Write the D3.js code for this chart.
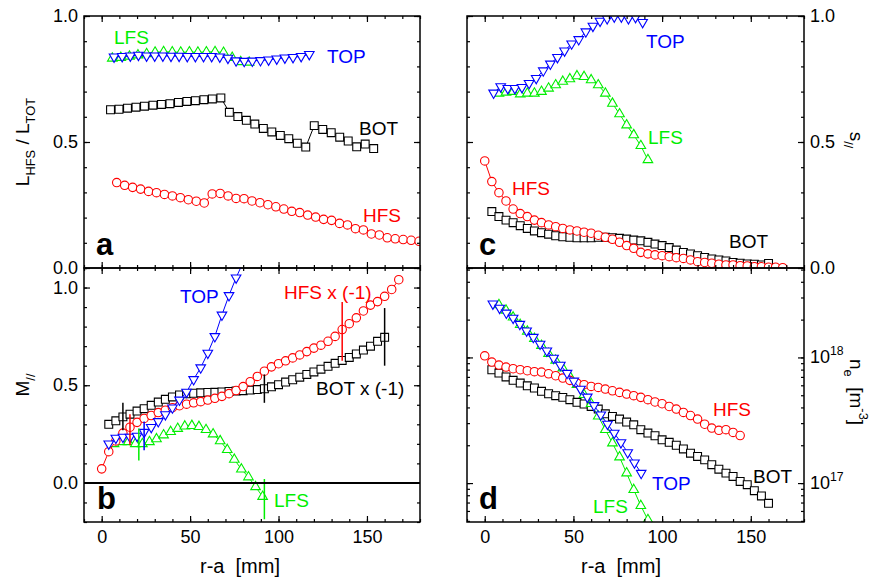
<!DOCTYPE html>
<html>
<head>
<meta charset="utf-8">
<script src="https://cdn.jsdelivr.net/npm/d3@7"></script>
<style>
  body { margin: 0; background: #fff; }
  svg { display: block; font-family: "Liberation Sans", Arial, sans-serif; }
</style>
</head>
<body>
<script>
// ---- panel a : L_HFS / L_TOT ----
const aBotX = [5, 9.8, 14.6, 19.4, 24.2, 29, 33.8, 38.6, 43.4, 48.2, 53, 57.8, 62.6, 67.4, 72.2, 77, 81.8, 86.6, 91.4, 96.2, 101, 105.8, 110.6, 115.4, 120.2, 125, 129.8, 134.6, 139.4, 144.2, 149, 153.8];
const aBot = [0.628, 0.630, 0.634, 0.638, 0.642, 0.646, 0.649, 0.652, 0.657, 0.661, 0.664, 0.668, 0.671, 0.675, 0.618, 0.601, 0.586, 0.571, 0.554, 0.540, 0.526, 0.513, 0.495, 0.480, 0.565, 0.550, 0.537, 0.519, 0.504, 0.481, 0.492, 0.474];
const aHfsX = [8.5, 13, 17.5, 22, 26.5, 31, 35.5, 40, 44.5, 49, 53.5, 58, 62.5, 67, 71.5, 76, 80.5, 85, 89.5, 94, 98.5, 103, 107.5, 112, 116.5, 121, 125.5, 130, 134.5, 139, 143.5, 148, 152.5, 157, 161.5, 166, 170.5, 175, 179.5];
const aHfs = [0.339, 0.328, 0.320, 0.313, 0.304, 0.299, 0.292, 0.286, 0.279, 0.271, 0.265, 0.258, 0.294, 0.296, 0.286, 0.276, 0.275, 0.266, 0.259, 0.251, 0.243, 0.234, 0.225, 0.220, 0.210, 0.202, 0.193, 0.189, 0.177, 0.171, 0.156, 0.151, 0.135, 0.131, 0.120, 0.116, 0.113, 0.110, 0.106];
const aLfsX = [6, 10.8, 15.7, 20.5, 25.4, 30.2, 35, 39.9, 44.7, 49.6, 54.4, 59.2, 64.1, 68.9, 73.8, 78.6, 83.4];
const aLfs = [0.832, 0.835, 0.840, 0.845, 0.850, 0.856, 0.858, 0.857, 0.856, 0.857, 0.856, 0.857, 0.858, 0.855, 0.835, 0.818, 0.816];
const aTopX = [7, 11.6, 16.2, 20.8, 25.4, 30, 34.6, 39.2, 43.8, 48.4, 53, 57.6, 62.2, 66.8, 71.4, 76, 80.6, 85.2, 89.8, 94.4, 99, 103.6, 108.2, 112.8, 117.4];
const aTop = [0.838, 0.840, 0.842, 0.845, 0.842, 0.842, 0.842, 0.841, 0.841, 0.840, 0.840, 0.840, 0.840, 0.838, 0.833, 0.823, 0.821, 0.822, 0.824, 0.826, 0.830, 0.834, 0.836, 0.840, 0.848];

// ---- panel b : M_// ----
const bHfsX = [0, 4, 8, 12, 16, 20, 24, 28, 32, 36, 40, 44, 48, 52, 56, 60, 64, 68, 72, 76, 80, 84, 88, 92, 96, 100, 104, 108, 112, 116, 120, 124, 128, 132, 136, 140, 144, 148, 152, 156, 160, 164, 168];
const bHfs = [0.072, 0.16, 0.215, 0.255, 0.285, 0.31, 0.33, 0.345, 0.36, 0.372, 0.385, 0.395, 0.403, 0.41, 0.416, 0.424, 0.433, 0.443, 0.457, 0.473, 0.493, 0.518, 0.545, 0.572, 0.594, 0.61, 0.625, 0.64, 0.655, 0.672, 0.69, 0.705, 0.725, 0.75, 0.785, 0.815, 0.845, 0.88, 0.91, 0.928, 0.955, 0.99, 1.04];
const bBotX = [4, 8, 12, 16, 20, 24, 28, 32, 36, 40, 44, 48, 52, 56, 60, 64, 68, 72, 76, 80, 84, 88, 92, 96, 100, 104, 108, 112, 116, 120, 124, 128, 132, 136, 140, 144, 148, 152, 156, 160];
const bBot = [0.30, 0.318, 0.338, 0.352, 0.368, 0.38, 0.397, 0.414, 0.428, 0.44, 0.45, 0.456, 0.459, 0.461, 0.463, 0.464, 0.466, 0.468, 0.47, 0.472, 0.475, 0.478, 0.482, 0.492, 0.503, 0.516, 0.528, 0.541, 0.555, 0.568, 0.582, 0.597, 0.612, 0.627, 0.642, 0.66, 0.68, 0.70, 0.725, 0.745];
const bTopX = [4, 8, 12, 16, 20, 24, 28, 32, 36, 40, 44, 48, 52, 56, 60, 64, 68, 72, 76, 80];
const bTop = [0.20, 0.23, 0.235, 0.235, 0.24, 0.26, 0.285, 0.315, 0.35, 0.385, 0.425, 0.465, 0.53, 0.59, 0.665, 0.75, 0.86, 0.96, 1.05, 1.13];
const bLfsX = [7, 11, 15, 19, 23, 27, 31, 35, 39, 43, 47, 51, 55, 59, 63, 67, 71, 75, 79, 83, 87, 91];
const bLfs = [0.20, 0.21, 0.21, 0.20, 0.20, 0.21, 0.225, 0.245, 0.262, 0.278, 0.29, 0.293, 0.288, 0.272, 0.25, 0.215, 0.17, 0.12, 0.07, 0.03, -0.02, -0.07];
// error bars in panel b
const bBotErrX = [12, 92, 160], bBotErrLo = [0.27, 0.41, 0.60], bBotErrHi = [0.41, 0.555, 0.895];
const bHfsErrX = [16, 136], bHfsErrLo = [0.193, 0.625], bHfsErrHi = [0.352, 0.926];
const bLfsErrX = [21, 92], bLfsErrLo = [0.115, -0.186], bLfsErrHi = [0.279, 0.02];
const bTopErrX = [24], bTopErrLo = [0.167], bTopErrHi = [0.314];

// ---- panel c : s_// ----
const cTopX = [5, 9, 13, 17, 21, 25, 29, 33, 37, 41, 45, 49, 53, 57, 61, 65, 69, 73, 77, 81, 85, 89];
const cTop = [0.695, 0.72, 0.713, 0.713, 0.717, 0.733, 0.753, 0.783, 0.81, 0.836, 0.862, 0.89, 0.907, 0.938, 0.96, 0.98, 0.99, 0.997, 0.997, 0.99, 0.995, 0.975];
const cLfsX = [8, 12, 16, 20, 24, 28, 32, 36, 40, 44, 48, 52, 56, 60, 64, 68, 72, 76, 80, 84, 88, 92];
const cLfs = [0.693, 0.697, 0.700, 0.690, 0.693, 0.693, 0.700, 0.713, 0.726, 0.74, 0.75, 0.762, 0.759, 0.746, 0.726, 0.693, 0.653, 0.611, 0.567, 0.528, 0.485, 0.429];
const cHfsX = bHfsX;
const cHfs = [0.425, 0.343, 0.299, 0.266, 0.234, 0.216, 0.204, 0.19, 0.18, 0.171, 0.164, 0.157, 0.151, 0.147, 0.142, 0.138, 0.13, 0.122, 0.114, 0.102, 0.089, 0.078, 0.062, 0.056, 0.052, 0.049, 0.045, 0.041, 0.038, 0.032, 0.025, 0.022, 0.019, 0.015, 0.012, 0.012, 0.009, 0.008, 0.005, 0.005, 0.003, 0.003, 0.001];
const cBotX = bBotX;
const cBot = [0.224, 0.204, 0.19, 0.18, 0.168, 0.157, 0.147, 0.14, 0.134, 0.128, 0.124, 0.122, 0.12, 0.12, 0.12, 0.122, 0.122, 0.12, 0.118, 0.115, 0.111, 0.108, 0.102, 0.095, 0.089, 0.081, 0.071, 0.062, 0.056, 0.049, 0.042, 0.036, 0.032, 0.028, 0.022, 0.019, 0.016, 0.015, 0.012, 0.018];

// ---- panel d : n_e ----
const dHfsX = [0, 4, 8, 12, 16, 20, 24, 28, 32, 36, 40, 44, 48, 52, 56, 60, 64, 68, 72, 76, 80, 84, 88, 92, 96, 100, 104, 108, 112, 116, 120, 124, 128, 132, 136, 140, 144];
const dHfs = [10.3e17, 9.18e17, 8.69e17, 8.38e17, 8.13e17, 7.98e17, 7.84e17, 7.7e17, 7.65e17, 7.41e17, 7.15e17, 6.85e17, 6.57e17, 6.25e17, 6.07e17, 5.88e17, 5.77e17, 5.6e17, 5.43e17, 5.27e17, 5.11e17, 4.96e17, 4.81e17, 4.61e17, 4.42e17, 4.28e17, 4.07e17, 3.88e17, 3.65e17, 3.45e17, 3.23e17, 2.94e17, 2.74e17, 2.63e17, 2.66e17, 2.53e17, 2.39e17];
const dBotX = bBotX;
const dBot = [7.98e17, 7.51e17, 6.99e17, 6.57e17, 6.25e17, 5.95e17, 5.71e17, 5.37e17, 5.14e17, 4.96e17, 4.81e17, 4.61e17, 4.39e17, 4.26e17, 4.07e17, 3.88e17, 3.56e17, 3.39e17, 3.23e17, 3.06e17, 2.91e17, 2.66e17, 2.5e17, 2.38e17, 2.21e17, 2.11e17, 2.0e17, 1.87e17, 1.73e17, 1.63e17, 1.53e17, 1.4e17, 1.29e17, 1.2e17, 1.13e17, 1.03e17, 0.97e17, 0.87e17, 0.79e17, 0.69e17];
const dTopX = [4.6, 8.4, 12.2, 16, 19.8, 23.6, 27.4, 31.2, 35, 38.8, 42.6, 46.4, 50.2, 54, 57.8, 61.6, 65.4, 69.2, 73, 76.8, 80.6, 84.4, 88.2];
const dTop = [2.67e18, 2.47e18, 2.26e18, 2.06e18, 1.84e18, 1.63e18, 1.45e18, 1.28e18, 1.13e18, 9.9e17, 8.7e17, 7.5e17, 6.5e17, 5.6e17, 4.85e17, 4.15e17, 3.5e17, 2.95e17, 2.5e17, 2.1e17, 1.75e17, 1.45e17, 1.2e17];
const dLfsX = [8, 12, 16, 20, 24, 28, 32, 36, 40, 44, 48, 52, 56, 60, 64, 68, 72, 76, 80, 84, 88, 92];
const dLfs = [2.62e18, 2.37e18, 2.09e18, 1.82e18, 1.61e18, 1.41e18, 1.24e18, 1.07e18, 9.46e17, 8.22e17, 7.06e17, 6.07e17, 5.05e17, 4.28e17, 3.4e17, 2.66e17, 2.08e17, 1.61e17, 1.2e17, 8.85e16, 6.6e16, 5.1e16];

const xMajor = [0, 50, 100, 150];
const xMinor = d3.range(-10, 181, 10);
const linMajor = [0, 0.5, 1];
const logMajor = [1e17, 1e18];

const width = 889;
const height = 582;
const colors = { BOT: '#000000', HFS: '#ff0000', LFS: '#00ee00', TOP: '#0000ff' };

const svg = d3.select('body')
    .append('svg')
    .attr('width', width)
    .attr('height', height);

const xLeft = d3.scaleLinear().domain([-10, 180]).range([84, 420]);
const xRight = d3.scaleLinear().domain([-10, 180]).range([467, 804]);
const yA = d3.scaleLinear().domain([0, 1]).range([268, 16]);
const yB = d3.scaleLinear().domain([-0.2, 1.1]).range([522, 268]);
const yC = d3.scaleLinear().domain([0, 1]).range([268, 16]);
const yD = d3.scaleLog().domain([4.9e16, 5.15e18]).range([522, 268]);

function makePanel(id, x, y) {
    const g = svg.append('g');
    const [x0, x1] = x.range();
    const [y1, y0] = y.range();
    svg.append('clipPath').attr('id', id).append('rect')
        .attr('x', x0).attr('y', y0).attr('width', x1 - x0).attr('height', y1 - y0);
    const plot = g.append('g').attr('clip-path', `url(#${id})`);
    return { g, plot, x, y };
}

function tidy(sel) {
    sel.select('.domain').remove();
    sel.attr('font-family', null).attr('font-size', 18);
    sel.selectAll('line').attr('stroke', '#000').attr('stroke-width', 1.2);
    sel.selectAll('text').attr('fill', '#000');
}

// ticks on all four sides, pointing inwards
function drawAxes(p, opts) {
    const { g, x, y } = p;
    const [x0, x1] = x.range();
    const [y1, y0] = y.range();
    const noLab = () => '';

    [['bottom', y1], ['top', y0]].forEach(([side, pos]) => {
        const mk = side === 'bottom' ? d3.axisBottom : d3.axisTop;
        g.append('g').attr('transform', `translate(0,${pos})`)
            .call(mk(x).tickValues(xMinor).tickSizeInner(-3).tickSizeOuter(0).tickFormat(noLab)).call(tidy);
        const lab = side === 'bottom' && opts.xLabels ? d3.format('d') : noLab;
        g.append('g').attr('transform', `translate(0,${pos})`)
            .call(mk(x).tickValues(xMajor).tickSizeInner(-6).tickSizeOuter(0).tickPadding(8).tickFormat(lab)).call(tidy);
    });

    [['left', x0], ['right', x1]].forEach(([side, pos]) => {
        const mk = side === 'left' ? d3.axisLeft : d3.axisRight;
        g.append('g').attr('transform', `translate(${pos},0)`)
            .call(mk(y).tickValues(opts.yMinor).tickSizeInner(-3).tickSizeOuter(0).tickFormat(noLab)).call(tidy);
        const lab = side === opts.ySide && !opts.log ? d3.format('.1f') : noLab;
        g.append('g').attr('transform', `translate(${pos},0)`)
            .call(mk(y).tickValues(opts.yMajor).tickSizeInner(-6).tickSizeOuter(0).tickPadding(6).tickFormat(lab)).call(tidy);
    });

    g.append('rect')
        .attr('x', x0).attr('y', y0).attr('width', x1 - x0).attr('height', y1 - y0)
        .attr('fill', 'none').attr('stroke', '#000').attr('stroke-width', 1.5);
}

const shapes = {
    BOT: { type: d3.symbolSquare, size: 62, rot: 0 },
    HFS: { type: d3.symbolCircle, size: 56, rot: 0 },
    LFS: { type: d3.symbolTriangle, size: 40, rot: 0 },
    TOP: { type: d3.symbolTriangle, size: 40, rot: 180 }
};

function drawSeries(p, name, xs, ys) {
    const pts = xs.map((d, i) => [d, ys[i]]);
    const c = colors[name];
    const s = shapes[name];
    p.plot.append('path').datum(pts)
        .attr('d', d3.line().x(d => p.x(d[0])).y(d => p.y(d[1])))
        .attr('fill', 'none').attr('stroke', c).attr('stroke-width', 1);
    p.plot.selectAll(null).data(pts).enter().append('path')
        .attr('d', d3.symbol().type(s.type).size(s.size))
        .attr('transform', d => `translate(${p.x(d[0])},${p.y(d[1])}) rotate(${s.rot})`)
        .attr('fill', '#fff').attr('stroke', c).attr('stroke-width', 1.1);
}

function drawErrors(p, name, xs, lo, hi) {
    p.plot.selectAll(null).data(xs).enter().append('line')
        .attr('x1', d => p.x(d)).attr('x2', d => p.x(d))
        .attr('y1', (d, i) => p.y(lo[i])).attr('y2', (d, i) => p.y(hi[i]))
        .attr('stroke', colors[name]).attr('stroke-width', 1.5);
}

function label(txt, px, py, color, size, bold) {
    svg.append('text').attr('x', px).attr('y', py)
        .attr('fill', color).attr('font-size', size || 19)
        .attr('font-weight', bold ? 'bold' : null)
        .style('white-space', 'pre')
        .text(txt);
}

// text made of normal / sub / sup pieces
function richText(t, parts, base) {
    let shift = 0;
    parts.forEach(([s, k]) => {
        const target = k === 'sub' ? 0.3 * base : k === 'sup' ? -0.45 * base : 0;
        t.append('tspan').attr('dy', target - shift)
            .attr('font-size', k === 'n' ? base : base * 0.68)
            .text(s);
        shift = target;
    });
}

const pa = makePanel('clipA', xLeft, yA);
const pb = makePanel('clipB', xLeft, yB);
const pc = makePanel('clipC', xRight, yC);
const pd = makePanel('clipD', xRight, yD);

const linMinorA = d3.range(0, 1.001, 0.1);
const linMinorB = d3.range(-0.2, 1.101, 0.1);
const logMinor = [];
[16, 17, 18].forEach(e => d3.range(1, 10).forEach(k => {
    const v = k * Math.pow(10, e);
    if (v >= 4.9e16 && v <= 5.15e18) logMinor.push(v);
}));

drawAxes(pa, { yMinor: linMinorA, yMajor: linMajor, ySide: 'left' });
drawAxes(pb, { yMinor: linMinorB, yMajor: linMajor, ySide: 'left', xLabels: true });
drawAxes(pc, { yMinor: linMinorA, yMajor: linMajor, ySide: 'right' });
drawAxes(pd, { yMinor: logMinor, yMajor: logMajor, ySide: 'right', log: true, xLabels: true });

// zero line in panel b
pb.g.append('line')
    .attr('x1', xLeft.range()[0]).attr('x2', xLeft.range()[1])
    .attr('y1', yB(0)).attr('y2', yB(0))
    .attr('stroke', '#000').attr('stroke-width', 2);

// log tick labels on the right of panel d
logMajor.forEach(v => {
    const t = svg.append('text').attr('x', 810).attr('y', yD(v) + 6).attr('font-size', 18);
    const e = Math.round(Math.log10(v));
    richText(t, [['10', 'n'], [String(e), 'sup']], 18);
});

// series
drawSeries(pa, 'BOT', aBotX, aBot);
drawSeries(pa, 'LFS', aLfsX, aLfs);
drawSeries(pa, 'HFS', aHfsX, aHfs);
drawSeries(pa, 'TOP', aTopX, aTop);

drawSeries(pb, 'BOT', bBotX, bBot);
drawSeries(pb, 'LFS', bLfsX, bLfs);
drawSeries(pb, 'HFS', bHfsX, bHfs);
drawSeries(pb, 'TOP', bTopX, bTop);
drawErrors(pb, 'BOT', bBotErrX, bBotErrLo, bBotErrHi);
drawErrors(pb, 'LFS', bLfsErrX, bLfsErrLo, bLfsErrHi);
drawErrors(pb, 'HFS', bHfsErrX, bHfsErrLo, bHfsErrHi);
drawErrors(pb, 'TOP', bTopErrX, bTopErrLo, bTopErrHi);

drawSeries(pc, 'BOT', cBotX, cBot);
drawSeries(pc, 'LFS', cLfsX, cLfs);
drawSeries(pc, 'HFS', cHfsX, cHfs);
drawSeries(pc, 'TOP', cTopX, cTop);

drawSeries(pd, 'BOT', dBotX, dBot);
drawSeries(pd, 'LFS', dLfsX, dLfs);
drawSeries(pd, 'HFS', dHfsX, dHfs);
drawSeries(pd, 'TOP', dTopX, dTop);

// series labels
label('LFS', 114, 44, colors.LFS);
label('TOP', 327, 63, colors.TOP);
label('BOT', 359, 135, colors.BOT);
label('HFS', 363, 222, colors.HFS);

label('TOP', 180, 303, colors.TOP);
label('HFS x (-1)', 284, 299, colors.HFS);
label('BOT x (-1)', 316, 395, colors.BOT);
label('LFS', 274, 507, colors.LFS);

label('TOP', 646, 48, colors.TOP);
label('LFS', 648, 144, colors.LFS);
label('HFS', 512, 195, colors.HFS);
label('BOT', 729, 248, colors.BOT);

label('HFS', 713, 416, colors.HFS);
label('BOT', 753, 483, colors.BOT);
label('TOP', 652, 490, colors.TOP);
label('LFS', 593, 513, colors.LFS);

// panel letters
label('a', 96, 255, '#000', 31, true);
label('b', 97, 509, '#000', 31, true);
label('c', 479, 255, '#000', 31, true);
label('d', 479, 509, '#000', 31, true);

// axis titles
[240, 621].forEach(cx => {
    svg.append('text').attr('x', cx).attr('y', 573).attr('text-anchor', 'middle')
        .attr('font-size', 20).style('white-space', 'pre').text('r-a  [mm]');
});

const tL = svg.append('text').attr('text-anchor', 'middle').attr('font-size', 19)
    .attr('transform', 'translate(29,142) rotate(-90)');
richText(tL, [['L', 'n'], ['HFS', 'sub'], [' / L', 'n'], ['TOT', 'sub']], 19);

const tM = svg.append('text').attr('text-anchor', 'middle').attr('font-size', 19)
    .attr('transform', 'translate(29,385) rotate(-90)');
richText(tM, [['M', 'n'], ['//', 'sub']], 19);

const tS = svg.append('text').attr('text-anchor', 'middle').attr('font-size', 19)
    .attr('transform', 'translate(850,140) rotate(90)');
richText(tS, [['s', 'n'], ['//', 'sub']], 19);

const tN = svg.append('text').attr('text-anchor', 'middle').attr('font-size', 19)
    .style('white-space', 'pre')
    .attr('transform', 'translate(850,392) rotate(90)');
richText(tN, [['n', 'n'], ['e', 'sub'], ['  [m', 'n'], ['-3', 'sup'], [']', 'n']], 19);
</script>
</body>
</html>
